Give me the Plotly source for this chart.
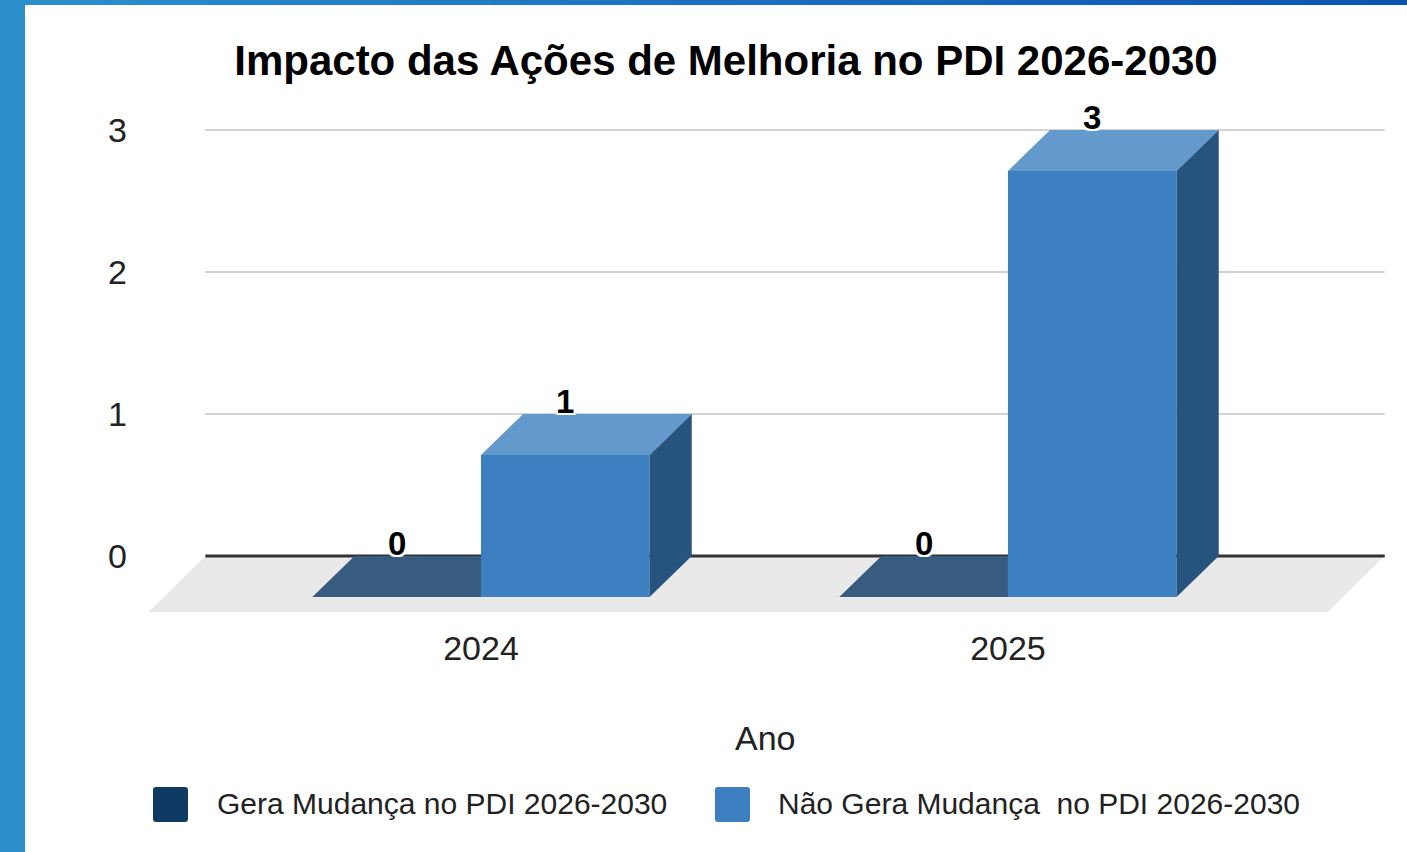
import plotly.graph_objects as go

# ---------------- data ----------------
categories = ["2024", "2025"]
series_names = ["Gera Mudança no PDI 2026-2030", "Não Gera Mudança  no PDI 2026-2030"]
gera_mudanca = [0, 0]
nao_gera_mudanca = [1, 3]
y_ticks = [0, 1, 2, 3]
chart_title = "Impacto das Ações de Melhoria no PDI 2026-2030"
x_axis_title = "Ano"

series_values = [gera_mudanca, nao_gera_mudanca]

# ---------------- style ----------------
W, H = 1407, 852
PL, PR, PT, PB = 140, 1390, 95, 620          # plot area in pixels
FONT = "Liberation Sans, Arial, sans-serif"
front_cols = ["#0e3a63", "#3d80c2"]
top_cols = ["#375c80", "#6399cb"]
side_cols = ["#0a2a48", "#27547e"]
legend_cols = ["#0e3a63", "#3d80c2"]

x_range = [-0.647, 1.725]
y_range = [-0.451, 3.246]
bar_w = 0.32
slot_offsets = [-0.32, 0.0]
dx, dy = 0.08, 0.289            # 3D depth (x in category units, y in value units)
back_left, back_right = -0.523, 1.715
floor_dx, floor_dy = 0.108, 0.394


def xp(px):
    return (px - PL) / (PR - PL)


def yp(py):
    return (PB - py) / (PB - PT)


fig = go.Figure()

# floor
fig.add_trace(go.Scatter(
    x=[back_left, back_right, back_right - floor_dx, back_left - floor_dx, back_left],
    y=[0, 0, -floor_dy, -floor_dy, 0],
    fill="toself", fillcolor="#e9e9e9", mode="lines", line=dict(width=0),
    hoverinfo="skip", showlegend=False))

# grid lines on the back plane
for t in y_ticks:
    fig.add_trace(go.Scatter(
        x=[back_left, back_right], y=[t, t], mode="lines",
        line=dict(color="#333333" if t == 0 else "#d3d3d3", width=3 if t == 0 else 2),
        hoverinfo="skip", showlegend=False))

# 3D bars
for s, vals in enumerate(series_values):
    fx, fy, tx, ty, sx, sy = [], [], [], [], [], []
    for i, v in enumerate(vals):
        x0 = i + slot_offsets[s]
        x1 = x0 + bar_w
        # front face
        fx += [x0, x1, x1, x0, x0, None]
        fy += [-dy, -dy, v - dy, v - dy, -dy, None]
        # top face
        tx += [x0, x1, x1 + dx, x0 + dx, x0, None]
        ty += [v - dy, v - dy, v, v, v - dy, None]
        # side face
        if v > 0:
            sx += [x1, x1 + dx, x1 + dx, x1, x1, None]
            sy += [-dy, 0, v, v - dy, -dy, None]
    if any(v > 0 for v in vals):
        fig.add_trace(go.Scatter(x=fx, y=fy, fill="toself", fillcolor=front_cols[s],
                                 mode="lines", line=dict(width=0), name=series_names[s],
                                 hoverinfo="skip", showlegend=False))
    fig.add_trace(go.Scatter(x=tx, y=ty, fill="toself", fillcolor=top_cols[s],
                             mode="lines", line=dict(width=0), name=series_names[s],
                             hoverinfo="skip", showlegend=False))
    if sx:
        fig.add_trace(go.Scatter(x=sx, y=sy, fill="toself", fillcolor=side_cols[s],
                                 mode="lines", line=dict(width=0), name=series_names[s],
                                 hoverinfo="skip", showlegend=False))

# value labels
halo = ("-2px -2px 0 #fff, 2px -2px 0 #fff, -2px 2px 0 #fff, 2px 2px 0 #fff, "
        "0 -2px 0 #fff, 0 2px 0 #fff, -2px 0 0 #fff, 2px 0 0 #fff")
annotations = []
for s, vals in enumerate(series_values):
    for i, v in enumerate(vals):
        annotations.append(dict(
            x=i + slot_offsets[s] + bar_w / 2, y=v, xref="x", yref="y",
            text=str(v), showarrow=False, yanchor="bottom", yshift=-8,
            font=dict(family=FONT, size=33, color="#000000", weight="bold", shadow=halo)))

# axis title
annotations.append(dict(x=0.5, y=yp(738), xref="paper", yref="paper", text=x_axis_title,
                        showarrow=False, yanchor="middle",
                        font=dict(family=FONT, size=34, color="#222222")))

# legend (manual, large swatches with rounded corners)
shapes = []
leg_items = [(153, 215), (715, 776)]
r = 3
for s, (sq_x, tx_x) in enumerate(leg_items):
    xa, xb = sq_x, sq_x + 35
    ya, yb = 787, 822
    path = ("M {},{} L {},{} Q {},{} {},{} L {},{} Q {},{} {},{} L {},{} Q {},{} {},{} "
            "L {},{} Q {},{} {},{} Z").format(
        xp(xa + r), yp(ya), xp(xb - r), yp(ya), xp(xb), yp(ya), xp(xb), yp(ya + r),
        xp(xb), yp(yb - r), xp(xb), yp(yb), xp(xb - r), yp(yb),
        xp(xa + r), yp(yb), xp(xa), yp(yb), xp(xa), yp(yb - r),
        xp(xa), yp(ya + r), xp(xa), yp(ya), xp(xa + r), yp(ya))
    shapes.append(dict(type="path", xref="paper", yref="paper", path=path,
                       fillcolor=legend_cols[s], line=dict(width=0), layer="above"))
    annotations.append(dict(x=xp(tx_x), y=yp(803), xref="paper", yref="paper",
                            text=series_names[s].replace("  ", "&nbsp; "), showarrow=False,
                            xanchor="left", yanchor="middle",
                            font=dict(family=FONT, size=30, color="#222222")))

# frame decoration: left band and top gradient band
shapes.append(dict(type="rect", xref="paper", yref="paper", x0=xp(0), x1=xp(25),
                   y0=yp(H), y1=yp(0), fillcolor="#2a8fcc", line=dict(width=0), layer="above"))
n_seg = 40
c0 = (0x2a, 0x8f, 0xcc)
c1 = (0x0b, 0x55, 0xb1)
for k in range(n_seg):
    t = k / (n_seg - 1)
    col = "rgb(%d,%d,%d)" % tuple(round(a + (b - a) * t) for a, b in zip(c0, c1))
    shapes.append(dict(type="rect", xref="paper", yref="paper",
                       x0=xp(W * k / n_seg), x1=xp(W * (k + 1) / n_seg + 1),
                       y0=yp(5), y1=yp(0), fillcolor=col, line=dict(width=0), layer="above"))

fig.update_layout(
    width=W, height=H,
    margin=dict(l=PL, r=W - PR, t=PT, b=H - PB),
    paper_bgcolor="#ffffff", plot_bgcolor="#ffffff",
    showlegend=False,
    title=dict(text="<b>" + chart_title + "</b>", x=726 / W, xanchor="center",
               y=1 - 60 / H, yanchor="middle",
               font=dict(family=FONT, size=42, color="#000000")),
    xaxis=dict(range=x_range, tickvals=list(range(len(categories))), ticktext=categories,
               showgrid=False, zeroline=False, showline=False, ticks="",
               ticklabelstandoff=5,
               tickfont=dict(family=FONT, size=34, color="#222222"), fixedrange=True),
    yaxis=dict(range=y_range, tickvals=y_ticks, showgrid=False, zeroline=False,
               showline=False, ticks="", ticklabelstandoff=12,
               tickfont=dict(family=FONT, size=34, color="#222222"), fixedrange=True),
    annotations=annotations,
    shapes=shapes,
)

fig.write_html("out.html", config={"displayModeBar": False},
               post_script="document.body.style.margin='0';document.body.style.padding='0';")
